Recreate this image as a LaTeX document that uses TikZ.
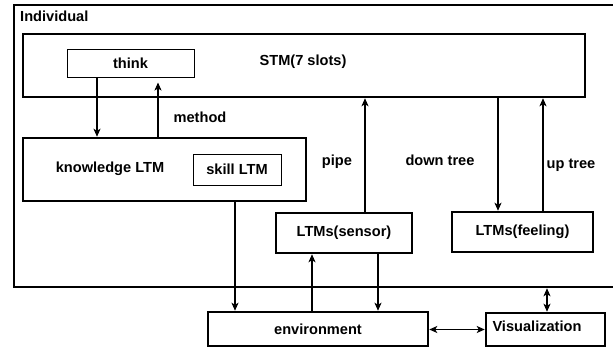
\documentclass[tikz,border=0pt]{standalone}
\usepackage{fontspec}
\setmainfont{Liberation Sans}
\usetikzlibrary{arrows.meta}

\tikzset{
  caja/.style={draw, line width=2.5pt, inner sep=0pt},
  cajita/.style={draw, line width=1pt, inner sep=0pt},
  punta/.tip={Stealth[length=8pt,width=7pt,inset=2pt]},
  flecha/.style={line width=1.1pt, -punta},
  doble/.style={line width=1.1pt, punta-punta},
  texto/.style={inner sep=0pt}
}

\begin{document}
\begin{tikzpicture}[x=1pt,y=-1pt,font=\fontsize{14.6}{17}\selectfont\bfseries]
        \useasboundingbox (0,0) rectangle (613,348);

        % Cajas
        \node[caja, minimum width=602pt, minimum height=282pt] (indiv) at (315,146) {};
        \node[texto, anchor=west] (indivtxt) at (20,16) {Individual};
        \node[caja, minimum width=562pt, minimum height=63pt] (stm) at (304,65.5) {};
        \node[texto] (stmtxt) at (303,62) {STM(7 slots)};
        \node[cajita, minimum width=127pt, minimum height=28pt] (think) at (130.5,63) {think};
        \node[caja, minimum width=283pt, minimum height=63pt] (know) at (164.5,169.5) {};
        \node[texto] (knowtxt) at (110,169) {knowledge LTM};
        \node[cajita, minimum width=88pt, minimum height=31pt] (skill) at (237,169.5) {skill LTM};
        \node[caja, minimum width=136pt, minimum height=40pt] (sensor) at (344,233) {LTMs(sensor)};
        \node[caja, minimum width=141pt, minimum height=40pt] (feeling) at (522.5,232) {LTMs(feeling)};
        \node[caja, minimum width=220pt, minimum height=34pt] (env) at (318,329) {environment};
        \node[caja, minimum width=119pt, minimum height=33pt] (vis) at (545.5,329.5) {};
        \node[texto] (vistxt) at (537,326) {Visualization};

        % Flechas
        \draw[flecha] ([xshift=-33.5pt]think.south) -- ([xshift=-33.5pt]think.south |- know.north);
        \draw[flecha, shorten >=5pt] ([xshift=-6.5pt]know.north) -- ([xshift=-6.5pt]know.north |- think.south);
        \draw[flecha] ([xshift=70.5pt]know.south) -- ([xshift=70.5pt]know.south |- env.north);
        \draw[flecha] ([xshift=-6pt]env.north) -- ([xshift=-6pt]env.north |- sensor.south);
        \draw[flecha] ([xshift=34pt]sensor.south) -- ([xshift=34pt]sensor.south |- env.north);
        \draw[flecha] ([xshift=21pt]sensor.north) -- ([xshift=21pt]sensor.north |- stm.south);
        \draw[flecha] ([xshift=-24.5pt]feeling.north |- stm.south) -- ([xshift=-24.5pt]feeling.north);
        \draw[flecha] ([xshift=20.5pt]feeling.north) -- ([xshift=20.5pt]feeling.north |- stm.south);
        \draw[doble] (env.east |- vis.west) -- (vis.west);
        \draw[doble] ([xshift=1.5pt]vis.north |- indiv.south) -- ([xshift=1.5pt]vis.north);

        % Etiquetas
        \node[texto] (method) at (200,117) {method};
        \node[texto] (pipe) at (337,162) {pipe};
        \node[texto] (down) at (440,160) {down tree};
        \node[texto] (up) at (571,165) {up tree};
\end{tikzpicture}
\end{document}
